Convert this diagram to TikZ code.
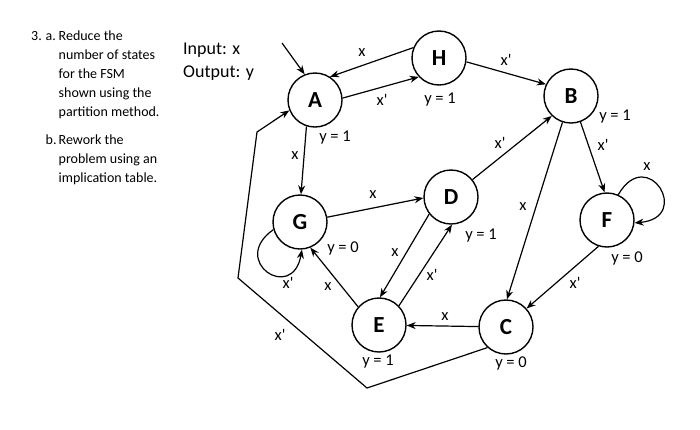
\documentclass[tikz,border=0pt]{standalone}
\usepackage{fontspec}
\setmainfont{Carlito}
\usetikzlibrary{arrows.meta, positioning}
\newcommand{\xn}{x\textquotesingle}

\begin{document}
\begin{tikzpicture}[x=1pt, y=-1pt,
    state/.style={circle, draw, line width=1.4pt, minimum size=54pt, inner sep=0pt,
        font=\fontsize{23}{26}\selectfont\bfseries},
    arr/.style={-{Stealth[length=9pt, width=7pt]}, line width=1.2pt},
    lbl/.style={font=\fontsize{16.5}{19}\selectfont, inner sep=0pt},
    task/.style={font=\fontsize{14}{19}\selectfont, align=left, inner sep=0pt},
]
\useasboundingbox (0,0) rectangle (700,429);

% ===== Problem text =====
\node[task, anchor=north west] (task) at (31,27)
  {\begin{tabular}{@{}l@{}l@{}l@{}}
   \makebox[14.5pt][l]{3.} & \makebox[13pt][l]{a.} & Reduce the\\
      &    & number of states\\
      &    & for the FSM\\
      &    & shown using the\\
      &    & partition method.\\[9pt]
      & b. & Rework the\\
      &    & problem using an\\
      &    & implication table.
   \end{tabular}};

\node[task, font=\fontsize{18}{23}\selectfont, anchor=north west] (io) at (183,43)
  {Input: x\\Output: y};

% ===== States =====
\node[state] (A) at (315,100) {A};
\node[state] (H) at (439,58)  {H};
\node[state] (B) at (571,96)  {B};
\node[state] (G) at (300,222) {G};
\node[state] (D) at (451,197) {D};
\node[state] (F) at (607,220) {F};
\node[state] (E) at (379,325) {E};
\node[state] (C) at (506,327) {C};

% outputs
\node[lbl] (yA) at (335,138) {y = 1};
\node[lbl] (yH) at (440,100) {y = 1};
\node[lbl] (yB) at (615,117) {y = 1};
\node[lbl] (yG) at (343,248) {y = 0};
\node[lbl] (yD) at (481,236) {y = 1};
\node[lbl] (yF) at (627,258) {y = 0};
\node[lbl] (yE) at (378,362) {y = 1};
\node[lbl] (yC) at (511,363) {y = 0};

% ===== Transitions =====
\coordinate (start) at (282,43);
\draw[arr] (start) -- (A.112);

\draw[arr] (H.158) -- (A.57);
\node[lbl] (lHA) at (362,53) {x};
\draw[arr] (A.4) -- (H.223);
\node[lbl] (lAH) at (382,100) {\xn};
\draw[arr] (H.-8) -- (B.155);
\node[lbl] (lHB) at (506,60) {\xn};

\draw[arr] (A.252) -- (G.88);
\node[lbl] (lAG) at (295,156) {x};
\draw[arr] (G.10) -- (D.182);
\node[lbl] (lGD) at (373,195) {x};
\draw[arr] (D.39) -- (B.226);
\node[lbl] (lDB) at (500,143) {\xn};
\draw[arr] (B.290) -- (F.95);
\node[lbl] (lBF) at (603,145) {\xn};
\draw[arr] (F.66) to[out=60, in=5, looseness=4.6] (F.-6);
\node[lbl] (lFF) at (647,167) {x};

\draw[arr] (B.252) -- (C.88);
\node[lbl] (lBC) at (523,207) {x};
\draw[arr] (F.252) -- (C.42);
\node[lbl] (lFC) at (575,283) {\xn};
\draw[arr] (C) -- (E);
\node[lbl] (lCE) at (445,317) {x};

\draw[arr] (D.218) -- (E.88);
\node[lbl] (lDE) at (395,253) {x};
\draw[arr] (E.44) -- (D.272);
\node[lbl] (lED) at (432,275) {\xn};
\draw[arr] (E.139) -- (G.292);
\node[lbl] (lEG) at (328,287) {x};
\draw[arr] (G.196) to[out=215, in=-100, looseness=4] (G.274);
\node[lbl] (lGG) at (288,283) {\xn};

% C back to A round the left side
\coordinate (k1) at (367,388);
\coordinate (k2) at (238,278);
\coordinate (k3) at (257,132);
\draw[arr] (C.228) -- (k1) -- (k2) -- (k3) -- (A.202);
\node[lbl] (lCA) at (280,335) {\xn};

\end{tikzpicture}
\end{document}
